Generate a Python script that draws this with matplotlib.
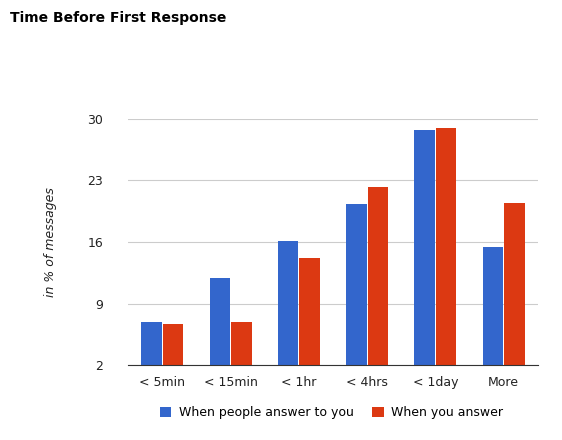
import matplotlib
matplotlib.use("Agg")
import matplotlib.pyplot as plt
import numpy as np

categories = ["< 5min", "< 15min", "< 1hr", "< 4hrs", "< 1day", "More"]
people_answer = [6.9, 11.9, 16.1, 20.3, 28.7, 15.4]
you_answer = [6.7, 6.9, 14.2, 22.3, 29.0, 20.4]
yticks = [2, 9, 16, 23, 30]

fig = plt.figure(figsize=(5.62, 4.4), dpi=100)
ax = fig.add_axes([0.228, 0.170, 0.729, 0.560])
x = np.arange(len(categories))
w = 0.3
b1 = ax.bar(x - w/2 - 0.008, np.array(people_answer) - 2, w, bottom=2, color="#3366cc", label="When people answer to you")
b2 = ax.bar(x + w/2 + 0.008, np.array(you_answer) - 2, w, bottom=2, color="#dc3912", label="When you answer")
ax.set_ylim(2, 30)
ax.set_xlim(-0.5, len(categories) - 0.5)
ax.set_yticks(yticks)
ax.set_xticks(x)
ax.set_xticklabels(categories)
ax.grid(axis="y", color="#cccccc", linewidth=0.8)
ax.set_axisbelow(True)
for s in ["top", "right", "left"]:
    ax.spines[s].set_visible(False)
ax.spines["bottom"].set_color("#333333")
ax.tick_params(length=0, labelsize=9, colors="#222222")
ax.tick_params(axis="y", pad=18)
ax.tick_params(axis="x", pad=8)
ax.set_ylabel("in % of messages", fontsize=9, style="italic", labelpad=22, color="#222222")
fig.text(0.018, 0.958, "Time Before First Response", fontsize=10, fontweight="bold", va="center")
fig.legend(handles=[b1, b2], loc="center", bbox_to_anchor=(0.59, 0.062), ncol=2, frameon=False,
           fontsize=9, handlelength=0.9, handleheight=0.9, columnspacing=1.5, handletextpad=0.6)
fig.savefig("out.png", dpi=100)
